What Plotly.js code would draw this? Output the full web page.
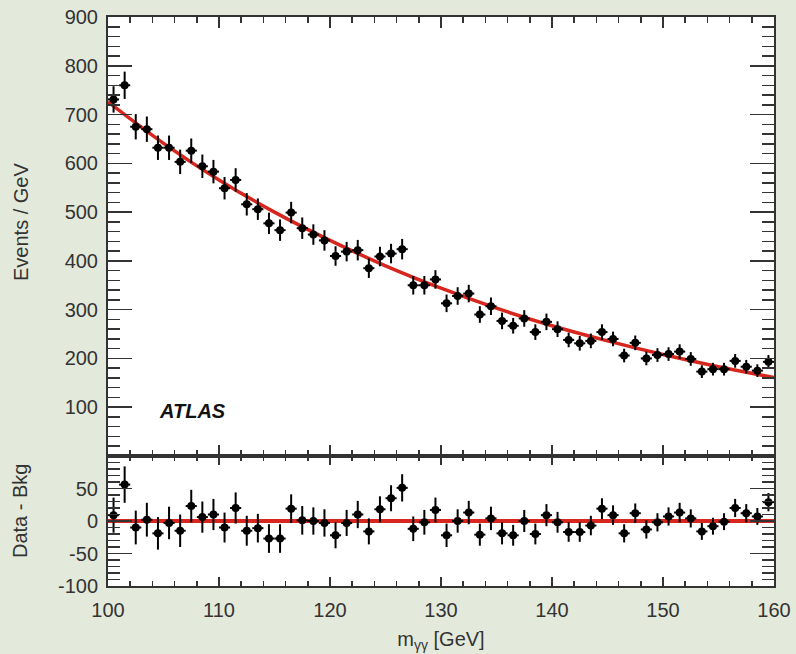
<!DOCTYPE html>
<html>
<head>
<meta charset="utf-8">
<script src="https://cdn.plot.ly/plotly-3.0.1.min.js"></script>
<style>html,body{margin:0;padding:0;background:#e4eadb;}#chart{width:796px;height:654px;}</style>
</head>
<body>
<div id="chart"></div>
<script>
// Diphoton invariant mass bin centres (GeV)
const massBins = [100.5,101.5,102.5,103.5,104.5,105.5,106.5,107.5,108.5,109.5,
  110.5,111.5,112.5,113.5,114.5,115.5,116.5,117.5,118.5,119.5,
  120.5,121.5,122.5,123.5,124.5,125.5,126.5,127.5,128.5,129.5,
  130.5,131.5,132.5,133.5,134.5,135.5,136.5,137.5,138.5,139.5,
  140.5,141.5,142.5,143.5,144.5,145.5,146.5,147.5,148.5,149.5,
  150.5,151.5,152.5,153.5,154.5,155.5,156.5,157.5,158.5,159.5];
// Events / GeV
const events = [731,760,675,670,632,632,603,626,594,583,
  549,566,516,506,477,463,499,467,454,442,
  410,419,422,385,409,415,424,350,350,362,
  313,328,333,290,307,277,267,282,254,275,
  260,238,231,236,254,240,206,232,200,207,
  209,214,199,173,178,178,195,183,175,193];
// statistical uncertainty per bin
const eventErr = [27,28,26,26,25,25,25,25,24,24,
  23,24,23,22,22,22,22,22,21,21,
  20,20,21,20,20,20,21,19,19,19,
  18,18,18,17,18,17,16,17,16,17,
  16,15,15,15,16,15,14,15,14,14,
  14,15,14,13,13,13,14,14,13,14];
// Data - background
const residuals = [9,56,-10,2,-19,-3,-15,23,6,10,
  -10,20,-15,-11,-27,-27,19,1,0,-3,
  -22,-3,10,-16,18,35,51,-12,-2,17,
  -22,0,13,-21,4,-19,-22,0,-20,9,
  -2,-17,-17,-7,19,9,-19,12,-13,-2,
  7,13,4,-16,-8,-1,20,12,7,29];
// background fit curve
const fitMass = [100,105,110,115,120,125,130,135,140,145,150,155,160];
const fitValues = [726,641,566,500,442,390,344,303,267,236,208,183,161];
// zero line for residual panel
const zeroMass = [100,160];
const zeroValues = [0,0];
// tick labels
const topTickVals = [100,200,300,400,500,600,700,800,900];
const resTickVals = [-100,-50,0,50];
const resTickText = ['-100','-50','0','50'];

const red = '#d6261d';
const ink = '#333333';
const fontFam = '"Liberation Sans", Arial, Helvetica, sans-serif';

const traces = [
  {x: fitMass, y: fitValues, xaxis:'x2', yaxis:'y', mode:'lines', type:'scatter',
   line:{color:red, width:3.5, shape:'spline'}, hoverinfo:'skip', showlegend:false},
  {x: massBins, y: events, xaxis:'x2', yaxis:'y', mode:'markers', type:'scatter',
   marker:{color:'#000', size:8, symbol:'circle'},
   error_y:{type:'data', array:eventErr, visible:true, color:'#000', thickness:2, width:0},
   error_x:{type:'constant', value:0.5, visible:true, color:'#000', thickness:2, width:0},
   showlegend:false},
  {x: zeroMass, y: zeroValues, xaxis:'x', yaxis:'y2', mode:'lines', type:'scatter',
   line:{color:red, width:4}, hoverinfo:'skip', showlegend:false},
  {x: massBins, y: residuals, xaxis:'x', yaxis:'y2', mode:'markers', type:'scatter',
   marker:{color:'#000', size:8, symbol:'circle'},
   error_y:{type:'data', array:eventErr, visible:true, color:'#000', thickness:2, width:0},
   error_x:{type:'constant', value:0.5, visible:true, color:'#000', thickness:2, width:0},
   showlegend:false}
];

const split = 130/569;
const tickFont = {family: fontFam, size: 20, color: ink};

const layout = {
  width: 796, height: 654,
  paper_bgcolor: '#e4eadb',
  plot_bgcolor: '#ffffff',
  margin: {l:108, r:22, t:17, b:68, pad:0},
  font: {family: fontFam, color: ink},
  showlegend: false,
  xaxis: {
    domain:[0,1], anchor:'y2', range:[100,160], tickmode:'linear', tick0:100, dtick:10,
    ticks:'inside', ticklen:9, tickwidth:1.5, tickcolor:ink,
    minor:{dtick:2, ticks:'inside', ticklen:5, tickwidth:1.5, tickcolor:ink},
    mirror:'allticks', showline:true, linewidth:2, linecolor:ink,
    showgrid:false, zeroline:false, tickfont: tickFont, ticklabelstandoff:5,
    title:{text:'m<sub>γγ</sub> [GeV]', font:{family:fontFam, size:20, color:ink}, standoff:12}
  },
  xaxis2: {
    domain:[0,1], anchor:'y', matches:'x', range:[100,160], tickmode:'linear', tick0:100, dtick:10,
    ticks:'inside', ticklen:11, tickwidth:1.5, tickcolor:ink,
    minor:{dtick:2, ticks:'inside', ticklen:6, tickwidth:1.5, tickcolor:ink},
    mirror:'allticks', showline:true, linewidth:2, linecolor:ink,
    showgrid:false, zeroline:false, showticklabels:false
  },
  yaxis: {
    domain:[split,1], anchor:'x2', range:[0,900], tickmode:'array',
    tickvals: topTickVals,
    ticks:'inside', ticklen:24, tickwidth:1.5, tickcolor:ink,
    minor:{dtick:20, ticks:'inside', ticklen:12, tickwidth:1.5, tickcolor:ink},
    mirror:'allticks', showline:true, linewidth:2, linecolor:ink,
    showgrid:false, zeroline:false, tickfont: tickFont, ticklabelstandoff:4
  },
  yaxis2: {
    domain:[0,split], anchor:'x', range:[-100,100], tickmode:'array',
    tickvals: resTickVals, ticktext: resTickText,
    ticks:'inside', ticklen:24, tickwidth:1.5, tickcolor:ink,
    minor:{dtick:10, ticks:'inside', ticklen:12, tickwidth:1.5, tickcolor:ink},
    mirror:'allticks', showline:true, linewidth:2, linecolor:ink,
    showgrid:false, zeroline:false, tickfont: tickFont, ticklabelstandoff:4
  },
  annotations: [
    {text:'Events / GeV', xref:'paper', yref:'paper', x:(21-108)/666, y:(586-222)/569,
     xanchor:'center', yanchor:'middle', textangle:-90, showarrow:false,
     font:{family:fontFam, size:20, color:ink}},
    {text:'Data - Bkg', xref:'paper', yref:'paper', x:(20-108)/666, y:(586-511)/569,
     xanchor:'center', yanchor:'middle', textangle:-90, showarrow:false,
     font:{family:fontFam, size:20, color:ink}},
    {text:'<b><i>ATLAS</i></b>', xref:'x2', yref:'y', x:104.4, y:92,
     xanchor:'left', yanchor:'middle', showarrow:false,
     font:{family:fontFam, size:20, color:'#111'}}
  ]
};

Plotly.newPlot('chart', traces, layout, {displayModeBar:false, staticPlot:true});
</script>
</body>
</html>
